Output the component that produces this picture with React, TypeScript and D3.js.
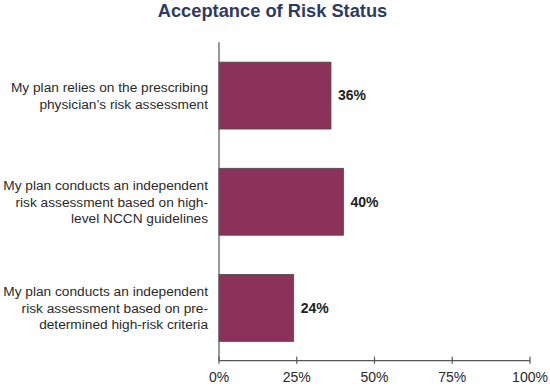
import React from "react";
import * as d3 from "d3";

const categories: string[][] = [
  ["My plan relies on the prescribing", "physician\u2019s risk assessment"],
  ["My plan conducts an independent", "risk assessment based on high-", "level NCCN guidelines"],
  ["My plan conducts an independent", "risk assessment based on pre-", "determined high-risk criteria"],
];
const values: number[] = [36, 40, 24];
const tickValues: number[] = [0, 25, 50, 75, 100];
const title = "Acceptance of Risk Status";

export default function App() {
  const W = 550, H = 387;
  const x = d3.scaleLinear().domain([0, 100]).range([219, 530]);
  const y = d3.scaleBand<number>().domain(d3.range(values.length)).range([42.5, 361]).paddingInner(0.37).paddingOuter(0.185);
  const font = "'Liberation Sans', Arial, sans-serif";
  const axisY = 360.7;
  return (
    <svg width={W} height={H} style={{ position: "absolute", left: 0, top: 0 }} fontFamily={font}>
      <rect width={W} height={H} fill="#fff" />
      <text x={272.5} y={17} textAnchor="middle" fontSize={18.3} fontWeight="bold" fill="#2e3a63">{title}</text>
      {values.map((v, i) => {
        const y0 = y(i)!;
        const bh = y.bandwidth();
        const cy = y0 + bh / 2;
        const lines = categories[i];
        const lh = 16.7;
        return (
          <g key={i}>
            <rect x={x(0)} y={y0} width={x(v) - x(0)} height={bh} fill="#8b315a" stroke="#4a4a4a" strokeWidth={0.8} />
            <text x={x(v) + 7} y={cy} dy="0.35em" fontSize={14} fontWeight="bold" fill="#222">{v}%</text>
            {lines.map((l, j) => (
              <text key={j} x={208} y={cy + (j - (lines.length - 1) / 2) * lh} dy="0.35em" textAnchor="end" fontSize={13.7} fill="#2a2a2a">{l}</text>
            ))}
          </g>
        );
      })}
      <line x1={x(0)} x2={x(0)} y1={42.3} y2={axisY} stroke="#555" strokeWidth={1.2} />
      <line x1={x(0)} x2={x(100)} y1={axisY} y2={axisY} stroke="#555" strokeWidth={1.2} />
      {tickValues.map((t) => (
        <g key={t}>
          <line x1={x(t)} x2={x(t)} y1={axisY - 4} y2={axisY + 3} stroke="#555" strokeWidth={1.2} />
          <text x={x(t)} y={381.5} textAnchor="middle" fontSize={14} fill="#2a2a2a">{t}%</text>
        </g>
      ))}
    </svg>
  );
}
